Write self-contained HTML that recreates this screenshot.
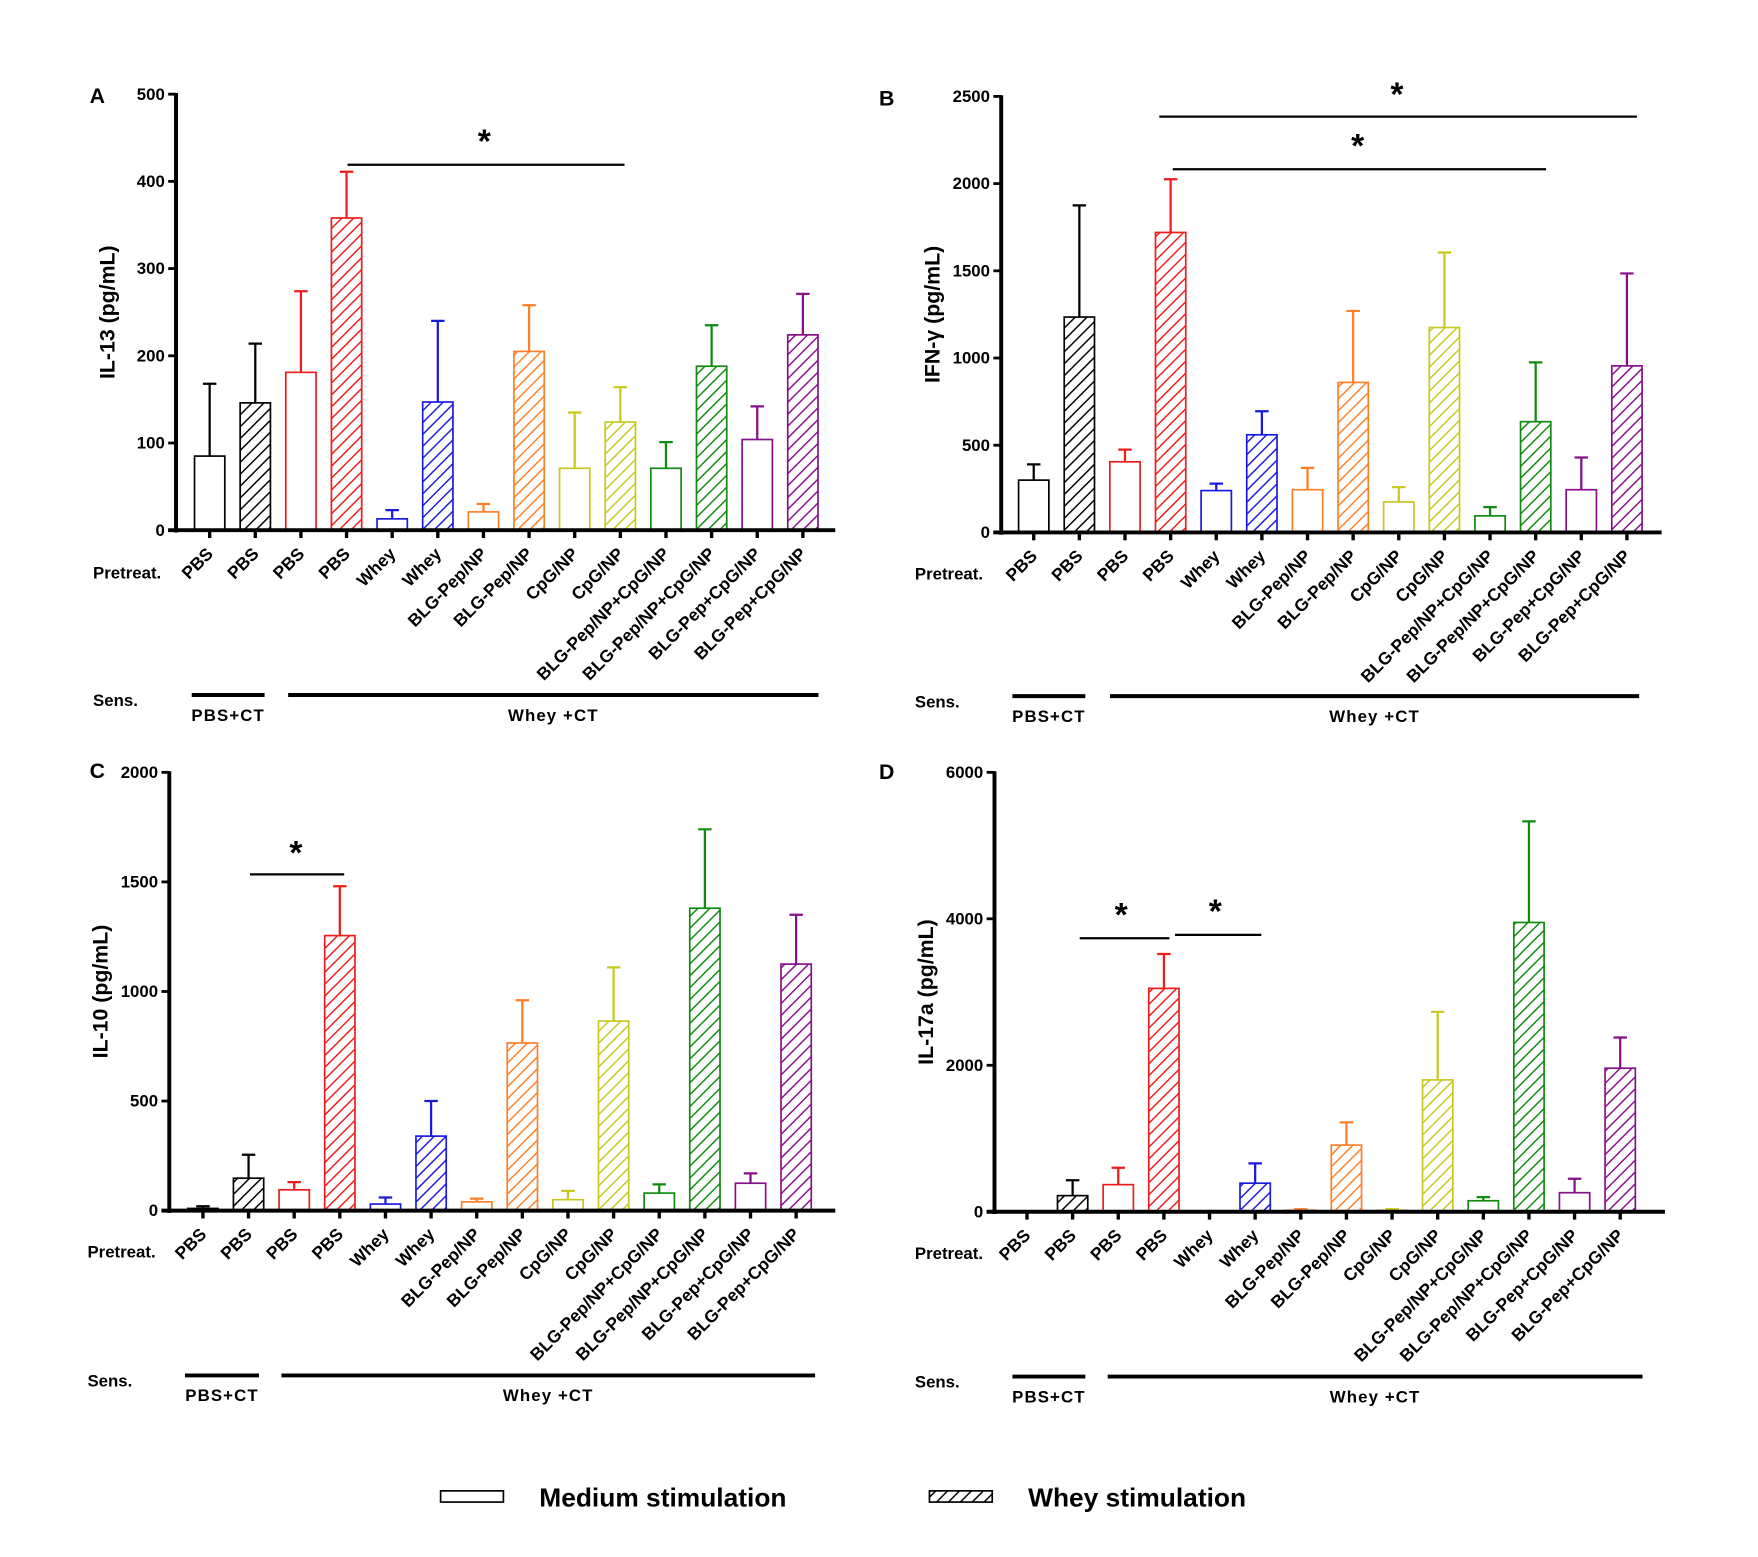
<!DOCTYPE html>
<html><head><meta charset="utf-8"><style>
html,body{margin:0;padding:0;background:#fff;}
svg{display:block;font-family:"Liberation Sans",sans-serif;}
</style></head><body>
<svg id="fig" width="1758" height="1557" viewBox="0 0 1568 1389" preserveAspectRatio="none" xmlns="http://www.w3.org/2000/svg">
<defs id="defs"></defs>
</svg>
<script>
const categories = ["PBS","PBS","PBS","PBS","Whey","Whey","BLG-Pep/NP","BLG-Pep/NP","CpG/NP","CpG/NP","BLG-Pep/NP+CpG/NP","BLG-Pep/NP+CpG/NP","BLG-Pep+CpG/NP","BLG-Pep+CpG/NP"];
const colors = ["#000000","#000000","#ee1c1c","#ee1c1c","#1a1adf","#1a1adf","#ff7f27","#ff7f27","#c8c81e","#c8c81e","#108a10","#108a10","#86108a","#86108a"];
const il13Values = [85,146,181,358,13,147,21,205,71,124,71,188,104,224];
const il13Errors = [168,214,274,411,23,240,30,258,135,164,101,235,142,271];
const ifnValues = [300,1235,405,1720,240,560,245,860,175,1175,95,635,245,955];
const ifnErrors = [390,1875,475,2025,280,695,370,1270,260,1605,145,975,430,1485];
const il10Values = [10,148,95,1255,30,340,40,765,50,865,80,1380,125,1125];
const il10Errors = [20,255,130,1480,60,500,55,960,90,1110,120,1740,170,1350];
const il17Values = [0,220,370,3050,0,390,20,910,20,1800,150,3950,260,1960];
const il17Errors = [0,430,600,3520,0,660,35,1220,35,2730,200,5330,450,2380];
const il13Ticks = [0,100,200,300,400,500];
const ifnTicks = [0,500,1000,1500,2000,2500];
const il10Ticks = [0,500,1000,1500,2000];
const il17Ticks = [0,2000,4000,6000];

const NS="http://www.w3.org/2000/svg";
const svg=document.getElementById('fig');
const defs=document.getElementById('defs');
function mk(tag,attrs,parent){const e=document.createElementNS(NS,tag);for(const k in attrs)e.setAttribute(k,attrs[k]);(parent||svg).appendChild(e);return e;}
const uniq=[...new Set(colors)];
uniq.forEach((c,i)=>{
  const p=mk('pattern',{id:'h'+i,patternUnits:'userSpaceOnUse',width:7.5,height:7.5,patternTransform:'rotate(45)'},defs);
  mk('line',{x1:0,y1:0,x2:0,y2:7.5,stroke:c,'stroke-width':2.6},p);
});
function pat(c){return 'url(#h'+uniq.indexOf(c)+')';}

const panels=[
 {id:'A',title:'IL-13 (pg/mL)',vals:il13Values,errs:il13Errors,ticks:il13Ticks,ax:157,y0:473,yt:84,x0:187,step:40.7,xe:745,
  sig:[[310,557,147,432,122]],lab:[80,92],pre:[83,511],sens:[83,625,620,171,236,257,730,638]},
 {id:'B',title:'IFN-γ (pg/mL)',vals:ifnValues,errs:ifnErrors,ticks:ifnTicks,ax:893,y0:475,yt:86,x0:922,step:40.7,xe:1482,
  sig:[[1034,1460,104,1246,80],[1046,1379,151,1211,126]],lab:[784,94],pre:[816,512],sens:[816,626,621,903,968,990,1462,639]},
 {id:'C',title:'IL-10 (pg/mL)',vals:il10Values,errs:il10Errors,ticks:il10Ticks,ax:151,y0:1080,yt:689,x0:181,step:40.7,xe:745,
  sig:[[223,307,780,264,757]],lab:[80,694],pre:[78,1117],sens:[78,1232,1227,165,231,251,727,1245]},
 {id:'D',title:'IL-17a (pg/mL)',vals:il17Values,errs:il17Errors,ticks:il17Ticks,ax:887,y0:1081,yt:689,x0:916,step:40.7,xe:1485,
  sig:[[963,1043,837,1000,812],[1048,1125,834,1084,809]],lab:[784,695],pre:[816,1118],sens:[816,1233,1228,903,968,988,1465,1246]}
];

panels.forEach(P=>{
  const g=mk('g',{});
  
  
  const maxT=P.ticks[P.ticks.length-1];
  const y=v=>P.y0-(v/maxT)*(P.y0-P.yt);
  const x=i=>P.x0+i*P.step;
  const bw=27;
  P.vals.forEach((v,i)=>{
    const c=colors[i], hatched=i%2===1;
    const top=y(v), err=y(P.errs[i]);
    if(P.errs[i]>v){
      const el=mk('path',{d:`M${x(i)},${top}V${err}M${x(i)-6},${err}H${x(i)+6}`,stroke:c,'stroke-width':2,fill:'none'},g);
      
      
    }
    if(v>0){
      const r=mk('rect',{x:x(i)-bw/2,y:top,width:bw,height:P.y0-top,fill:hatched?pat(c):'#fff',stroke:c,'stroke-width':1.5},g);
      
      
    }
    mk('line',{x1:x(i),y1:P.y0,x2:x(i),y2:P.y0+7,stroke:'#000','stroke-width':3},g);
    const t=mk('text',{x:x(i)+4,y:P.y0+22,'text-anchor':'end','font-size':15.5,'font-weight':'bold',transform:`rotate(-45 ${x(i)+4} ${P.y0+22})`},g);
    t.textContent=categories[i];
    
    
  });
  mk('line',{x1:P.ax,y1:P.yt-1,x2:P.ax,y2:P.y0+2,stroke:'#000','stroke-width':3.5},g);
  mk('line',{x1:P.ax-7,y1:P.y0,x2:P.xe,y2:P.y0,stroke:'#000','stroke-width':3.5},g);
  P.ticks.forEach(tv=>{
    mk('line',{x1:P.ax-7,y1:y(tv),x2:P.ax,y2:y(tv),stroke:'#000','stroke-width':2.5},g);
    const t=mk('text',{x:P.ax-10,y:y(tv)+5,'text-anchor':'end','font-size':15,'font-weight':'bold'},g);
    t.textContent=tv;
    
    
  });
  const cy=(P.y0+P.yt)/2;
  const yt=mk('text',{x:P.ax-55,y:cy,'text-anchor':'middle','font-size':19,'font-weight':'bold',transform:`rotate(-90 ${P.ax-55} ${cy})`},g);
  yt.textContent=P.title;
  
  
  const lb=mk('text',{x:P.lab[0],y:P.lab[1],'font-size':19,'font-weight':'bold'},g);
  lb.textContent=P.id;
  
  
  P.sig.forEach(s=>{
    mk('line',{x1:s[0],y1:s[2],x2:s[1],y2:s[2],stroke:'#000','stroke-width':2},g);
    const st=mk('text',{x:s[3],y:s[4]+14,'text-anchor':'middle','font-size':30,'font-weight':'bold'},g);
    st.textContent='*';
    
    
  });
  const pr=mk('text',{x:P.pre[0],y:P.pre[1]+5,'font-size':15,'font-weight':'bold'},g);
  pr.textContent='Pretreat.';
  
  
  const S=P.sens;
  const se=mk('text',{x:S[0],y:S[1]+5,'font-size':15,'font-weight':'bold'},g);
  se.textContent='Sens.';
  
  
  mk('line',{x1:S[3],y1:S[2],x2:S[4],y2:S[2],stroke:'#000','stroke-width':3.5},g);
  mk('line',{x1:S[5],y1:S[2],x2:S[6],y2:S[2],stroke:'#000','stroke-width':3.5},g);
  const a=mk('text',{x:(S[3]+S[4])/2,y:S[7]+5,'text-anchor':'middle','font-size':15,'font-weight':'bold','letter-spacing':1},g);
  a.textContent='PBS+CT';
  
  
  const b=mk('text',{x:(S[5]+S[6])/2,y:S[7]+5,'text-anchor':'middle','font-size':15,'font-weight':'bold','letter-spacing':1},g);
  b.textContent='Whey +CT';
  
  
});
const lg=mk('g',{});


mk('rect',{x:393,y:1330,width:56,height:10,fill:'#fff',stroke:'#000','stroke-width':1.5},lg);
const l1=mk('text',{x:481,y:1344,'font-size':23.5,'font-weight':'bold'},lg);
l1.textContent='Medium stimulation';


mk('rect',{x:829,y:1330,width:56,height:10,fill:pat('#000000'),stroke:'#000','stroke-width':1.5},lg);
const l2=mk('text',{x:917,y:1344,'font-size':23.5,'font-weight':'bold'},lg);
l2.textContent='Whey stimulation';


</script>
</body></html>
